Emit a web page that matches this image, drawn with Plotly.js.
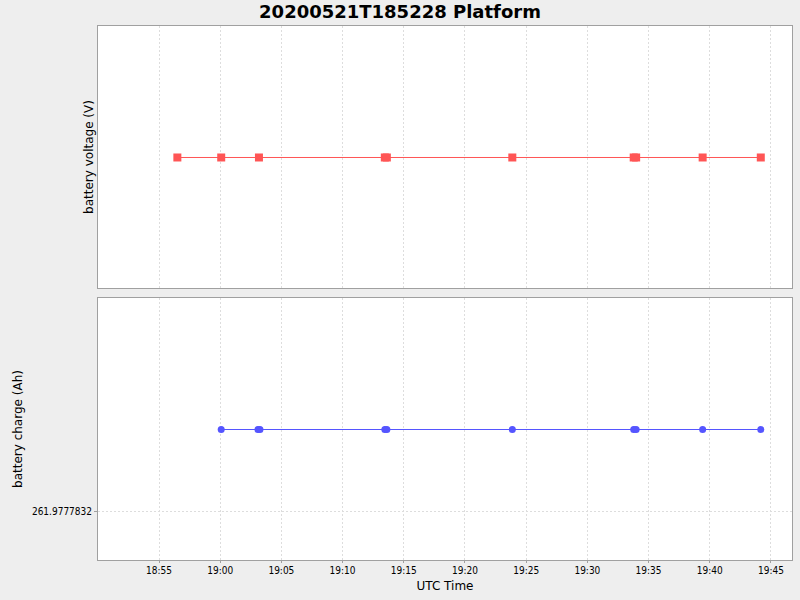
<!DOCTYPE html>
<html>
<head>
<meta charset="utf-8">
<script src="https://cdn.plot.ly/plotly-3.0.1.min.js"></script>
<style>html,body{margin:0;padding:0;background:#eeeeee;}#chart{width:800px;height:600px;}</style>
</head>
<body>
<div id="chart"></div>
<script>
// ---- data ----
const chartTitle = '20200521T185228 Platform';
const voltageTimes = ['2020-05-21 18:56:30','2020-05-21 19:00:05','2020-05-21 19:03:10','2020-05-21 19:13:27','2020-05-21 19:13:37','2020-05-21 19:23:52','2020-05-21 19:33:47','2020-05-21 19:33:59','2020-05-21 19:39:25','2020-05-21 19:44:10'];
const voltageValues = [13.2, 13.2, 13.2, 13.2, 13.2, 13.2, 13.2, 13.2, 13.2, 13.2];
const chargeTimes = ['2020-05-21 19:00:05','2020-05-21 19:03:05','2020-05-21 19:03:15','2020-05-21 19:13:27','2020-05-21 19:13:37','2020-05-21 19:23:52','2020-05-21 19:33:47','2020-05-21 19:33:59','2020-05-21 19:39:25','2020-05-21 19:44:10'];
const chargeValues = [261.977783826, 261.977783826, 261.977783826, 261.977783826, 261.977783826, 261.977783826, 261.977783826, 261.977783826, 261.977783826, 261.977783826];
const chargeTickVals = [261.9777832];
const chargeTickText = ['261.9777832'];
const xRange = ['2020-05-21 18:50:01', '2020-05-21 19:46:43'];

const tickFont = {family: 'DejaVu Sans Condensed, DejaVu Sans, sans-serif', size: 10, color: '#000000'};
const titleFont = {family: 'DejaVu Sans, sans-serif', size: 12, color: '#000000'};
const gridColor = '#dddddd';
const borderColor = '#a0a0a0';

const traces = [
  {x: voltageTimes, y: voltageValues, xaxis: 'x', yaxis: 'y', type: 'scatter', mode: 'lines+markers',
   line: {color: '#ff5555', width: 1}, marker: {symbol: 'square', size: 8, color: '#ff5555'}, showlegend: false},
  {x: chargeTimes, y: chargeValues, xaxis: 'x2', yaxis: 'y2', type: 'scatter', mode: 'lines+markers',
   line: {color: '#5555ff', width: 1}, marker: {symbol: 'circle', size: 7, color: '#5555ff'}, showlegend: false}
];

const v0 = voltageValues[0];
const c0 = chargeValues[0];
const vHalfPx = 1 / 262;      // half a pixel in data units (range span 2)
const cHalfPx = 1e-6 / 262;
const xCommon = {
  type: 'date', range: xRange, tick0: '2020-05-21 18:55:00', dtick: 300000, tickformat: '%H:%M',
  showgrid: true, gridcolor: gridColor, griddash: '2px,2px', gridwidth: 1,
  showline: true, linecolor: borderColor, linewidth: 1, mirror: true, zeroline: false,
  tickfont: tickFont
};

const layout = {
  width: 800, height: 600,
  paper_bgcolor: '#eeeeee', plot_bgcolor: '#ffffff',
  margin: {l: 98, r: 8, t: 26, b: 40},
  title: {text: '<b>' + chartTitle + '</b>', font: {family: 'DejaVu Sans, sans-serif', size: 18, color: '#000000'}, x: 0.5, xanchor: 'center', xref: 'container', y: 0.98, yanchor: 'middle'},
  xaxis: Object.assign({}, xCommon, {domain: [0, 1], anchor: 'y', showticklabels: false, ticks: ''}),
  xaxis2: Object.assign({}, xCommon, {domain: [0, 1], anchor: 'y2', matches: 'x', showticklabels: true, ticks: 'outside', ticklen: 2, tickcolor: borderColor,
    ticklabelstandoff: -1,
    title: {text: 'UTC Time', font: titleFont, standoff: 6}}),
  yaxis: {domain: [0.5094, 1], anchor: 'x', range: [v0 - 1 + vHalfPx, v0 + 1 + vHalfPx], showticklabels: false, ticks: '', showgrid: false, zeroline: false,
    showline: true, linecolor: borderColor, linewidth: 1, mirror: true,
    title: {text: 'battery voltage (V)', font: titleFont, standoff: 0}},
  yaxis2: {domain: [0, 0.4906], anchor: 'x2', range: [c0 - 1e-6 + cHalfPx, c0 + 1e-6 + cHalfPx], tickvals: chargeTickVals, ticktext: chargeTickText,
    ticks: 'outside', ticklen: 3, tickcolor: borderColor, tickfont: tickFont,
    showgrid: true, gridcolor: gridColor, griddash: '2px,2px', zeroline: false,
    showline: true, linecolor: borderColor, linewidth: 1, mirror: true,
    title: {text: 'battery charge (Ah)', font: titleFont, standoff: 6}}
};

Plotly.newPlot('chart', traces, layout, {displayModeBar: false, staticPlot: true});
</script>
</body>
</html>
